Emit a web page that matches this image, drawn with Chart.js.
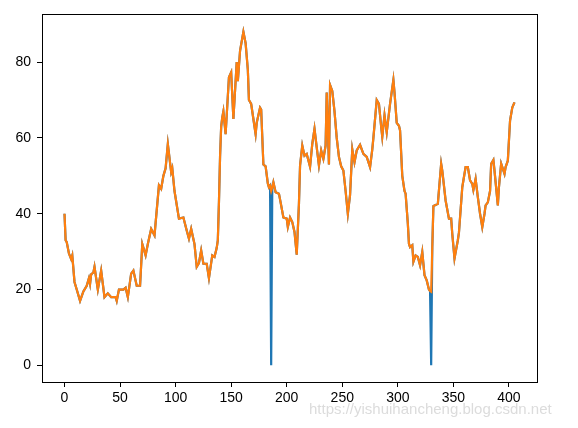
<!DOCTYPE html>
<html>
<head>
<meta charset="utf-8">
<script src="https://cdn.jsdelivr.net/npm/chart.js@4/dist/chart.umd.min.js"></script>
<style>
  html, body { margin: 0; padding: 0; background: #fff; }
  #wrap { position: relative; width: 578px; height: 428px; }
  #mark {
    position: absolute; left: 309px; top: 400px;
    font: 15px "Liberation Sans", Arial, sans-serif; color: #dcdcdc;
    white-space: nowrap;
  }
</style>
</head>
<body>
<div id="wrap">
  <canvas id="lineChart" width="578" height="428"></canvas>
  <div id="mark">https://yishuihancheng.blog.csdn.net</div>
</div>
<script>
// x positions of the readings (day index) and the smoothed series (orange)
const days = [0, 1, 2, 4, 6, 7, 9, 11, 14, 17, 20, 22, 23, 24, 26, 27, 30, 33, 36, 39,
  42, 46, 47, 49, 53, 55, 57, 60, 62, 65, 68, 70, 73, 75, 78, 81, 85, 87, 89, 91,
  93, 96, 97, 99, 103, 107, 110, 112, 114, 117, 119, 121, 123, 125, 128, 130, 133, 135, 137, 138,
  139, 140, 141, 142, 143, 145, 148, 150, 152, 155, 156, 158, 161, 163, 165, 166, 168, 170, 172, 173,
  176, 177, 179, 181, 183, 184, 185, 186, 187, 188, 190, 193, 195, 197, 200, 201, 203, 205, 207, 209,
  211, 212, 214, 216, 218, 221, 223, 225, 227, 229, 231, 233, 235, 236, 238, 239, 241, 243, 245, 247,
  249, 251, 253, 255, 257, 259, 261, 263, 266, 269, 272, 275, 277, 278, 281, 283, 285, 286, 288, 290,
  293, 296, 297, 299, 301, 302, 304, 306, 307, 309, 310, 311, 313, 314, 316, 318, 320, 322, 324, 326,
  328, 329, 330, 331, 332, 333, 336, 339, 340, 343, 346, 348, 349, 351, 354, 355, 358, 361, 363, 365,
  367, 368, 370, 372, 374, 376, 378, 379, 381, 383, 384, 386, 387, 390, 391, 393, 396, 397, 399, 401,
  403, 405];
const filled = [40, 33, 32.5, 29.5, 28, 29, 22, 20, 17, 19.5, 21, 23, 21.5, 24, 24.5, 26, 20, 25, 18, 19,
  18, 18, 17, 20, 20, 20.5, 18, 24.2, 25, 21, 21, 32, 29, 32, 36, 34.3, 47.5, 46.6, 50, 52,
  58.4, 51, 52, 46, 38.7, 39, 35.6, 33.4, 36, 32, 26, 27, 30.3, 26.8, 26.8, 23, 29, 28.6, 31, 33,
  43, 55, 63, 65.4, 67, 61, 76, 77.3, 65, 80, 75, 83, 88, 85, 78, 70, 69, 65, 61, 64,
  68, 67.5, 53, 52.5, 48, 47, 47.4, 46, 47, 48.3, 45.7, 45.3, 42.2, 39, 38.7, 36.5, 39, 37.8, 35.2, 29.2,
  42.6, 52.7, 58, 55.3, 55.8, 52.4, 58.4, 62.4, 57.5, 52.7, 56.7, 54.5, 58, 72, 53, 74, 72.4, 67, 60, 55,
  52.5, 51.4, 46, 40, 45, 57, 53.6, 56.7, 58.2, 55.8, 55, 52.3, 57, 60, 70, 69, 63, 60.3, 66, 61.5,
  69, 75.3, 72, 64, 63.2, 62, 50, 46, 45.3, 37.4, 32.1, 31.2, 31.7, 27.3, 29, 28.6, 26.4, 29.9, 23.8, 22.4,
  20, 19.6, 19.4, 31, 42, 42.2, 42.6, 53.2, 51.4, 43.5, 38.7, 38.7, 34.7, 28.2, 33, 35, 47, 52.3, 52.3, 48.8,
  47.9, 46.3, 49.2, 44.4, 40, 36.5, 40, 42.2, 43, 46, 53.2, 54.2, 51.4, 42.2, 47, 53.2, 50.5, 52.3, 54, 64.6,
  68, 69.4];
// days where the raw series (blue) reads 0
const zeroDays = [186, 330];
const xTicks = [0, 50, 100, 150, 200, 250, 300, 350, 400];
const yTicks = [0, 20, 40, 60, 80];

const rawPoints = days.map((d, i) => ({ x: d, y: zeroDays.includes(d) ? 0 : filled[i] }));
const filledPoints = days.map((d, i) => ({ x: d, y: filled[i] }));

// draws the top and right spines like matplotlib
const frameBox = {
  id: 'frameBox',
  afterDraw(chart) {
    const a = chart.chartArea, c = chart.ctx;
    c.save();
    c.strokeStyle = '#000';
    c.lineWidth = 1;
    c.strokeRect(Math.round(a.left) + 0.5, Math.round(a.top) + 0.5,
      Math.round(a.right - a.left), Math.round(a.bottom - a.top));
    c.restore();
  }
};

function drawLineChart() {
  const ctx = document.getElementById('lineChart').getContext('2d');
  const tickFont = { family: '"Liberation Sans Narrow", "Liberation Sans", Arial, sans-serif', size: 14 };
  new Chart(ctx, {
    type: 'line',
    data: {
      datasets: [{
        data: rawPoints,
        borderColor: '#1f77b4',
        borderWidth: 2.2,
        pointRadius: 0,
        order: 1
      }, {
        data: filledPoints,
        borderColor: '#ff7f0e',
        borderWidth: 2.2,
        pointRadius: 0,
        order: 0
      }]
    },
    options: {
      responsive: false,
      animation: false,
      layout: { padding: { top: 13, right: 41, left: 0, bottom: 0 } },
      plugins: { legend: { display: false }, tooltip: { enabled: false } },
      scales: {
        x: {
          type: 'linear',
          min: -20.25,
          max: 425.25,
          afterBuildTicks: s => { s.ticks = xTicks.map(v => ({ value: v })); },
          afterFit: s => { s.height = 46; },
          grid: { drawOnChartArea: false, tickLength: 5, color: '#000' },
          border: { color: '#000' },
          ticks: { color: '#000', font: tickFont, padding: 3, maxRotation: 0 }
        },
        y: {
          min: -4.4,
          max: 92.6,
          afterBuildTicks: s => { s.ticks = yTicks.map(v => ({ value: v })); },
          afterFit: s => { s.width = 42; },
          grid: { drawOnChartArea: false, tickLength: 5, color: '#000' },
          border: { color: '#000' },
          ticks: { color: '#000', font: tickFont, padding: 6 }
        }
      }
    },
    plugins: [frameBox]
  });
}

drawLineChart();
</script>
</body>
</html>
